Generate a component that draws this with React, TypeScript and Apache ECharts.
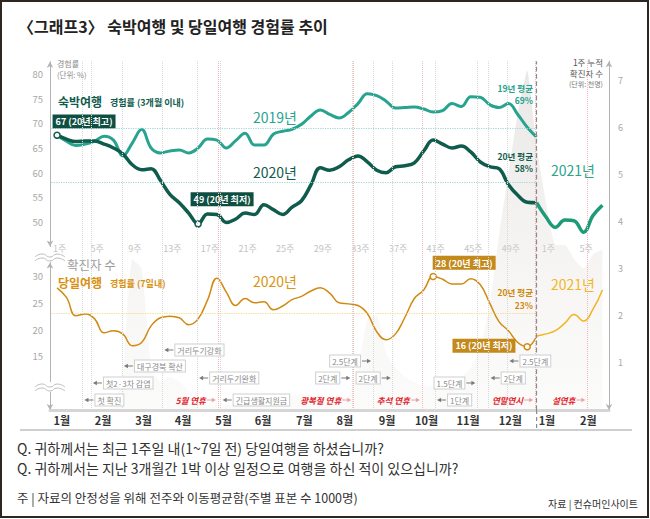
import React, { useEffect, useRef } from 'react';
import * as echarts from 'echarts';

const FONT = "'Noto Sans CJK KR', 'Noto Sans', sans-serif";

// ---------- data ----------
const weekTickLabels = ['1주', '5주', '9주', '13주', '17주', '21주', '25주', '29주', '33주', '37주', '41주', '45주', '49주', '1주', '5주'];
const monthLabels = ['1월', '2월', '3월', '4월', '5월', '6월', '7월', '8월', '9월', '10월', '11월', '12월', '1월', '2월'];
const monthPos = [0.5, 4.9, 9.2, 13.4, 17.7, 21.9, 26.3, 30.6, 35.1, 39.3, 43.7, 48.2, 52.1, 56.5];

// 숙박여행 경험률 (%), weekly, 2019 / 2020 (52 weeks), 2021 (weeks 1-7)
const stay2019 = [
  67.6, 66.4, 65.5, 65.8, 66.4, 67.4, 66.6, 63.4, 66.0, 68.8,
  65.0, 64.0, 64.4, 64.6, 64.0, 65.0, 66.8, 66.6, 65.0, 66.5,
  68.0, 65.6, 65.6, 67.8, 68.4, 68.8, 69.8, 71.5, 72.7, 71.8,
  71.1, 72.2, 74.0, 76.0, 75.6, 74.5, 73.1, 73.2, 73.3, 72.9,
  72.3, 72.6, 74.0, 73.4, 75.4, 75.3, 73.8, 73.2, 74.0, 71.8,
  69.2, 67.2,
];
const stay2020 = [
  67.6, 66.8, 66.3, 66.4, 66.4, 65.8, 65.0, 63.8, 61.6, 60.6,
  60.8, 58.4, 55.6, 53.9, 51.8, 49.6, 51.6, 51.5, 49.9, 50.6,
  51.8, 51.5, 53.5, 52.5, 51.5, 53.0, 54.3, 57.5, 61.0, 60.5,
  61.2, 62.6, 63.4, 62.2, 60.5, 60.0, 61.2, 61.4, 62.0, 64.4,
  66.6, 65.8, 65.0, 65.4, 64.2, 62.2, 61.2, 60.8, 57.6, 55.4,
  54.0, 53.9,
];
const stay2021 = [51.0, 48.9, 50.4, 50.2, 47.9, 51.3, 53.4];

// 당일여행 경험률 (%)
const day2020 = [
  27.8, 26.0, 22.6, 22.9, 22.0, 19.4, 19.8, 19.2, 17.0, 17.6,
  20.7, 22.2, 22.5, 22.2, 20.9, 22.0, 25.5, 29.6, 27.0, 24.5,
  25.8, 25.0, 25.2, 23.7, 24.4, 25.6, 26.2, 27.2, 27.8, 26.8,
  25.0, 24.8, 24.5, 23.0, 19.6, 18.1, 19.2, 22.3, 25.8, 27.4,
  29.9, 29.4, 28.5, 28.5, 29.5, 28.4, 25.0, 21.5, 19.8, 17.6,
  16.8, 18.8,
];
const day2021 = [19.2, 19.8, 21.2, 22.8, 21.6, 23.8, 27.4];

// 1주 누적 확진자 수 (천명)
const cases2020 = [
  0, 0, 0, 0.01, 0.01, 0.01, 0.02, 0.8, 3.2, 3.0,
  0.9, 0.6, 0.7, 0.6, 0.4, 0.2, 0.1, 0.1, 0.1, 0.15,
  0.2, 0.3, 0.3, 0.35, 0.3, 0.3, 0.35, 0.3, 0.25, 0.25,
  0.25, 0.3, 0.9, 1.9, 2.0, 1.2, 0.9, 0.7, 0.6, 0.5,
  0.5, 0.6, 0.6, 0.7, 0.9, 1.3, 2.2, 3.7, 5.0, 6.3,
  7.2, 5.6,
];
const cases2021 = [4.4, 3.5, 3.5, 3.2, 3.0, 3.3, 3.4];

const avgStay2019 = 69;
const avgStay2020 = 58;
const avgDay2020 = 23;

// marked points (index into the 2020 arrays)
const stayMaxIdx = 0;
const stayMinIdx = 15;
const dayMaxIdx = 40;
const dayMinIdx = 50;

// policy / holiday annotations (week position on the shared axis)
const events = [
  { text: '첫 확진', week: 2.7, side: 'R', holiday: false, level: 5 },
  { text: '첫2·3차 감염', week: 3.6, side: 'R', holiday: false, level: 4 },
  { text: '대구경북 확산', week: 6.9, side: 'R', holiday: false, level: 2 },
  { text: '거리두기강화', week: 11.2, side: 'R', holiday: false, level: 0 },
  { text: '거리두기완화', week: 14.9, side: 'R', holiday: false, level: 3 },
  { text: '긴급생활지원금', week: 17.4, side: 'R', holiday: false, level: 5 },
  { text: '5월 연휴', week: 17.1, side: 'L', holiday: true, level: 5 },
  { text: '광복절 연휴', week: 31.5, side: 'L', holiday: true, level: 5 },
  { text: '2단계', week: 31.4, side: 'L', holiday: false, level: 3 },
  { text: '2.5단계', week: 33.6, side: 'L', holiday: false, level: 1 },
  { text: '2단계', week: 35.7, side: 'L', holiday: false, level: 3 },
  { text: '추석 연휴', week: 38.8, side: 'L', holiday: true, level: 5 },
  { text: '1단계', week: 40.2, side: 'R', holiday: false, level: 5 },
  { text: '1.5단계', week: 44.7, side: 'L', holiday: false, level: 4 },
  { text: '2단계', week: 45.9, side: 'R', holiday: false, level: 3 },
  { text: '2.5단계', week: 47.9, side: 'R', holiday: false, level: 1 },
  { text: '연말연시', week: 50.85, side: 'L', holiday: true, level: 5 },
  { text: '설연휴', week: 56.4, side: 'L', holiday: true, level: 5 },
];
const yearBoundary = 51;

// ---------- layout ----------
const X_MIN = -0.75;
const X_MAX = 58.7;
const LEVEL_Y = [350, 361, 366, 378, 383, 400];
const C_2019 = '#27a38f';
const C_2020 = '#0f5b4c';
const C_2021 = '#1d9a76';
const C_DAY20 = '#d08a12';
const C_DAY21 = '#f2b624';

const pts = (arr: number[], start = 0) => arr.map((v, i) => [start + i, v]);

function markItem(x: number, v: number, color: string, box: string, text: string, pos: any, dist: number, off: number[]) {
  return {
    value: [x, v],
    symbol: 'circle',
    symbolSize: 6,
    itemStyle: { color: '#fff', borderColor: color, borderWidth: 1.5 },
    label: {
      show: true,
      formatter: text,
      position: pos,
      distance: dist,
      offset: off,
      backgroundColor: box,
      color: '#fff',
      fontSize: 9,
      fontWeight: 'bold',
      fontFamily: FONT,
      padding: [2, 3, 1, 3],
      lineHeight: 11,
    },
  };
}

function buildOption(): any {
  const xBase = { type: 'value', min: X_MIN, max: X_MAX, axisTick: { show: false }, splitLine: { show: false } };
  const yLine = {
    show: true,
    onZero: false,
    symbol: ['arrow', 'arrow'],
    symbolSize: [5, 6],
    lineStyle: { color: '#b3b3b3', width: 1 },
  };
  const s2020 = pts(stay2020).map((p, i) => {
    if (i === stayMaxIdx) return markItem(p[0], p[1], C_2020, '#0f4f42', `${Math.floor(stay2020[i])} (20년 최고)`, 'top', 3, [27, 0]);
    if (i === stayMinIdx) return markItem(p[0], p[1], C_2020, '#0f4f42', `${Math.floor(stay2020[i])} (20년 최저)`, 'top', 14, [24, 0]);
    return p;
  });
  const d2020 = pts(day2020).map((p, i) => {
    if (i === dayMaxIdx) return markItem(p[0], p[1], C_DAY20, '#c3891b', '28 (20년 최고)', 'top', 3, [31, 0]);
    if (i === dayMinIdx) return markItem(p[0], p[1], C_DAY20, '#c3891b', `${Math.floor(day2020[i])} (20년 최저)`, 'left', 8, [0, -1]);
    return p;
  });
  const avgLine = (v: number, color: string) => ({
    silent: true,
    symbol: 'none',
    label: { show: false },
    lineStyle: { color, type: 'dotted', width: 1.2 },
    data: [[{ coord: [-0.6, v] }, { coord: [yearBoundary, v] }]],
  });

  return {
    animation: false,
    backgroundColor: '#ffffff',
    textStyle: { fontFamily: FONT },
    grid: [
      { left: 50, right: 41, top: 61.7, bottom: 272.4 },
      { left: 50, right: 41, top: 262.6, bottom: 109 },
      { left: 50, right: 41, top: 61.2, bottom: 109 },
    ],
    xAxis: [
      {
        ...xBase,
        gridIndex: 0,
        axisLine: { show: false, onZero: false },
        axisLabel: {
          customValues: weekTickLabels.map((_, k) => k * 4),
          formatter: (v: number) => weekTickLabels[Math.round(v / 4)] ?? '',
          color: '#c3c3c3',
          fontSize: 9,
          margin: -3,
          padding: [0, 0, 0, 5],
        },
      },
      {
        ...xBase,
        gridIndex: 1,
        axisLine: { show: true, onZero: false, lineStyle: { color: '#d5d5d5', width: 3 } },
        axisLabel: {
          customValues: monthPos,
          formatter: (v: number) => monthLabels[monthPos.indexOf(v)] ?? '',
          color: '#333',
          fontWeight: 'bold',
          fontSize: 11,
          margin: 4,
        },
      },
      { ...xBase, gridIndex: 2, show: false, axisLine: { show: false, onZero: false } },
    ],
    yAxis: [
      {
        type: 'value', gridIndex: 0, min: 45, max: 82.5, interval: 5,
        axisLine: yLine, axisTick: { show: false }, splitLine: { show: false },
        axisLabel: { formatter: (v: number) => (v >= 50 && v <= 80 ? String(v) : ''), color: '#a8a8a8', fontSize: 9.5, margin: 7 },
      },
      {
        type: 'value', gridIndex: 1, min: 5, max: 32.5, interval: 5,
        axisLine: yLine, axisTick: { show: false }, splitLine: { show: false },
        axisLabel: { formatter: (v: number) => (v >= 15 && v <= 30 ? String(v) : ''), color: '#a8a8a8', fontSize: 9.5, margin: 7 },
      },
      {
        type: 'value', gridIndex: 2, position: 'right', min: 0, max: 7.4, interval: 1,
        axisLine: yLine, axisTick: { show: false }, splitLine: { show: false },
        axisLabel: { formatter: (v: number) => (v >= 1 && v <= 7 && Number.isInteger(v) ? String(v) : ''), color: '#a8a8a8', fontSize: 9, margin: 9 },
      },
    ],
    series: [
      {
        type: 'line', name: '확진자 수', xAxisIndex: 2, yAxisIndex: 2, z: 1, silent: true,
        data: pts([...cases2020, ...cases2021]),
        symbol: 'none', smooth: 0.15,
        lineStyle: { width: 0 },
        areaStyle: {
          color: new echarts.graphic.LinearGradient(0, 0, 0, 1, [
            { offset: 0, color: 'rgba(205,200,195,0.6)' },
            { offset: 1, color: 'rgba(232,229,226,0.22)' },
          ]),
        },
        markLine: {
          silent: true, symbol: 'none', label: { show: false },
          data: [
            ...events.map((e) => ({
              xAxis: e.week,
              lineStyle: { color: e.holiday ? '#f5b9b9' : '#d8d8d8', type: 'dotted', width: 1 },
            })),
            { xAxis: yearBoundary, lineStyle: { color: '#8c8c8c', type: 'dashed', width: 1.2 } },
          ],
        },
      },
      {
        type: 'line', name: '2019 숙박', xAxisIndex: 0, yAxisIndex: 0, z: 3,
        data: pts(stay2019), symbol: 'none', smooth: 0.4,
        lineStyle: { color: C_2019, width: 3 },
        markLine: avgLine(avgStay2019, '#9fd7d6'),
      },
      {
        type: 'line', name: '2020 숙박', xAxisIndex: 0, yAxisIndex: 0, z: 4,
        data: s2020, symbol: 'none', showSymbol: true, smooth: 0.4,
        lineStyle: { color: C_2020, width: 3.5 },
        markLine: avgLine(avgStay2020, '#9fd7d6'),
      },
      {
        type: 'line', name: '2021 숙박', xAxisIndex: 0, yAxisIndex: 0, z: 4,
        data: pts([stay2020[stay2020.length - 1], ...stay2021], yearBoundary),
        symbol: 'none', smooth: 0.4,
        lineStyle: { color: C_2021, width: 3.5 },
      },
      {
        type: 'line', name: '2020 당일', xAxisIndex: 1, yAxisIndex: 1, z: 4,
        data: d2020, symbol: 'none', showSymbol: true, smooth: 0.45,
        lineStyle: { color: C_DAY20, width: 1.5 },
        markLine: avgLine(avgDay2020, '#f5d98c'),
      },
      {
        type: 'line', name: '2021 당일', xAxisIndex: 1, yAxisIndex: 1, z: 4,
        data: pts([day2020[day2020.length - 1], ...day2021], yearBoundary),
        symbol: 'none', smooth: 0.45,
        lineStyle: { color: C_DAY21, width: 1.5 },
      },
    ],
  };
}

function T(x: number, y: number, text: string, st: any): any {
  return {
    type: 'text', x, y, z: 20, silent: true,
    style: {
      text, fontFamily: FONT,
      align: st.align || 'left', textAlign: st.align || 'left',
      verticalAlign: 'middle', textVerticalAlign: 'middle',
      ...st,
    },
  };
}

function arrow(L: number, y: number, side: string, color: string): any[] {
  const dir = side === 'R' ? 1 : -1;
  const tip = L + dir * 2;
  const tail = L + dir * 11;
  return [
    { type: 'line', z: 20, silent: true, shape: { x1: tail, y1: y, x2: tip + dir * 3, y2: y }, style: { stroke: color, lineWidth: 1 } },
    { type: 'polygon', z: 20, silent: true, shape: { points: [[tip, y], [tip + dir * 4, y - 2.3], [tip + dir * 4, y + 2.3]] }, style: { fill: color } },
  ];
}

function wave(y: number): any[] {
  const mk = (yy: number) => ({
    type: 'polyline', z: 20, silent: true,
    shape: { points: [[35, yy + 1], [42, yy - 2], [50, yy + 1], [57, yy - 2], [65, yy + 1]], smooth: 0.6 },
    style: { stroke: '#bdbdbd', lineWidth: 1, fill: null },
  });
  return [
    { type: 'rect', z: 19, silent: true, shape: { x: 44, y: y - 4, width: 12, height: 10 }, style: { fill: '#fff' } },
    mk(y), mk(y + 4),
  ];
}

function buildGraphics(px: (w: number) => number): any[] {
  const g: any[] = [];
  g.push({ type: 'rect', z: 30, silent: true, shape: { x: 1, y: 1, width: 647, height: 516 }, style: { stroke: '#2e2620', lineWidth: 2, fill: 'transparent' } });
  g.push(T(18, 26, '〈그래프3〉 숙박여행 및 당일여행 경험률 추이', { fontSize: 16, fontWeight: 'bold', fill: '#222' }));

  // axis titles
  g.push(T(57, 63, '경험률', { fontSize: 8, fill: '#8a8a8a' }));
  g.push(T(57, 74, '(단위: %)', { fontSize: 7.5, fill: '#8a8a8a' }));
  g.push(T(603, 62, '1주 누적', { fontSize: 8.5, fill: '#555', align: 'right' }));
  g.push(T(603, 73, '확진자 수', { fontSize: 8.5, fill: '#555', align: 'right' }));
  g.push(T(603, 84, '(단위: 천명)', { fontSize: 7, fill: '#777', align: 'right' }));

  // upper panel labels
  g.push(T(58, 101, '숙박여행', { fontSize: 12, fontWeight: 'bold', fill: C_2020 }));
  g.push(T(110, 102, '경험률 (3개월 이내)', { fontSize: 9, fontWeight: 'bold', fill: C_2020 }));
  g.push(T(253, 117, '2019년', { fontSize: 14, fill: C_2019 }));
  g.push(T(253, 172, '2020년', { fontSize: 14, fill: C_2020 }));
  g.push(T(551, 170, '2021년', { fontSize: 14, fill: '#2aa58a' }));
  g.push(T(533, 88, '19년 평균', { fontSize: 8.5, fontWeight: 'bold', fill: C_2019, align: 'right' }));
  g.push(T(533, 100, `${avgStay2019}%`, { fontSize: 8.5, fontWeight: 'bold', fill: C_2019, align: 'right' }));
  g.push(T(533, 156, '20년 평균', { fontSize: 8.5, fontWeight: 'bold', fill: C_2020, align: 'right' }));
  g.push(T(533, 168, `${avgStay2020}%`, { fontSize: 8.5, fontWeight: 'bold', fill: C_2020, align: 'right' }));

  // lower panel labels
  g.push(T(67, 264, '확진자 수', { fontSize: 12.5, fill: '#9d9d9d' }));
  g.push(T(58, 282, '당일여행', { fontSize: 12, fontWeight: 'bold', fill: '#d8900e' }));
  g.push(T(110, 283, '경험률 (7일내)', { fontSize: 9, fontWeight: 'bold', fill: '#d8900e' }));
  g.push(T(253, 281, '2020년', { fontSize: 14, fill: '#d8960f' }));
  g.push(T(551, 284, '2021년', { fontSize: 14, fill: C_DAY21 }));
  g.push(T(533, 292, '20년 평균', { fontSize: 8.5, fontWeight: 'bold', fill: '#d0880c', align: 'right' }));
  g.push(T(533, 305, `${avgDay2020}%`, { fontSize: 8.5, fontWeight: 'bold', fill: '#d0880c', align: 'right' }));

  g.push(...wave(256));
  g.push(...wave(386));

  // year separator continues down to the footer rule
  const sx = px(yearBoundary);
  g.push({ type: 'line', z: 5, silent: true, shape: { x1: sx, y1: 410, x2: sx, y2: 430 }, style: { stroke: '#8c8c8c', lineWidth: 1.2, lineDash: [4, 3] } });

  // events
  events.forEach((e) => {
    const L = px(e.week);
    const y = LEVEL_Y[e.level];
    if (e.holiday) {
      g.push(T(L - 12, y, e.text, { fontSize: 8.5, fontWeight: 'bold', fontStyle: 'italic', fill: '#e2252b', align: 'right' }));
      g.push(...arrow(L, y, 'L', '#f0a0a0'));
    } else {
      const right = e.side === 'R';
      g.push(T(right ? L + 13 : L - 13, y, e.text, {
        fontSize: 8, fill: '#8a8a8a', align: right ? 'left' : 'right',
        backgroundColor: '#fff', borderColor: '#cfcfcf', borderWidth: 1, padding: [2, 2, 1, 2],
      }));
      g.push(...arrow(L, y, e.side, '#7a7a7a'));
    }
  });

  // footer
  g.push({ type: 'line', z: 20, silent: true, shape: { x1: 20, y1: 430, x2: 632, y2: 430 }, style: { stroke: '#cfcfcf', lineWidth: 2 } });
  g.push(T(17, 448, 'Q. 귀하께서는 최근 1주일 내(1~7일 전) 당일여행을 하셨습니까?', { fontSize: 14, fill: '#333' }));
  g.push(T(17, 468, 'Q. 귀하께서는 지난 3개월간 1박 이상 일정으로 여행을 하신 적이 있으십니까?', { fontSize: 14, fill: '#333' }));
  g.push(T(17, 497, '주 | 자료의 안정성을 위해 전주와 이동평균함(주별 표본 수 1000명)', { fontSize: 12.5, fill: '#333' }));
  g.push(T(638, 503, '자료 | 컨슈머인사이트', { fontSize: 10, fill: '#333', align: 'right' }));
  return g;
}

export default function App() {
  const ref = useRef<HTMLDivElement>(null);
  useEffect(() => {
    if (!ref.current) return;
    const chart = echarts.init(ref.current, null, { renderer: 'svg' });
    chart.setOption(buildOption());
    const px = (w: number) => chart.convertToPixel({ xAxisIndex: 2 } as any, w) as unknown as number;
    chart.setOption({ graphic: buildGraphics(px) });
    return () => chart.dispose();
  }, []);
  return (
    <div
      ref={ref}
      style={{ position: 'fixed', left: 0, top: 0, width: 650, height: 519, background: '#fff' }}
    />
  );
}
